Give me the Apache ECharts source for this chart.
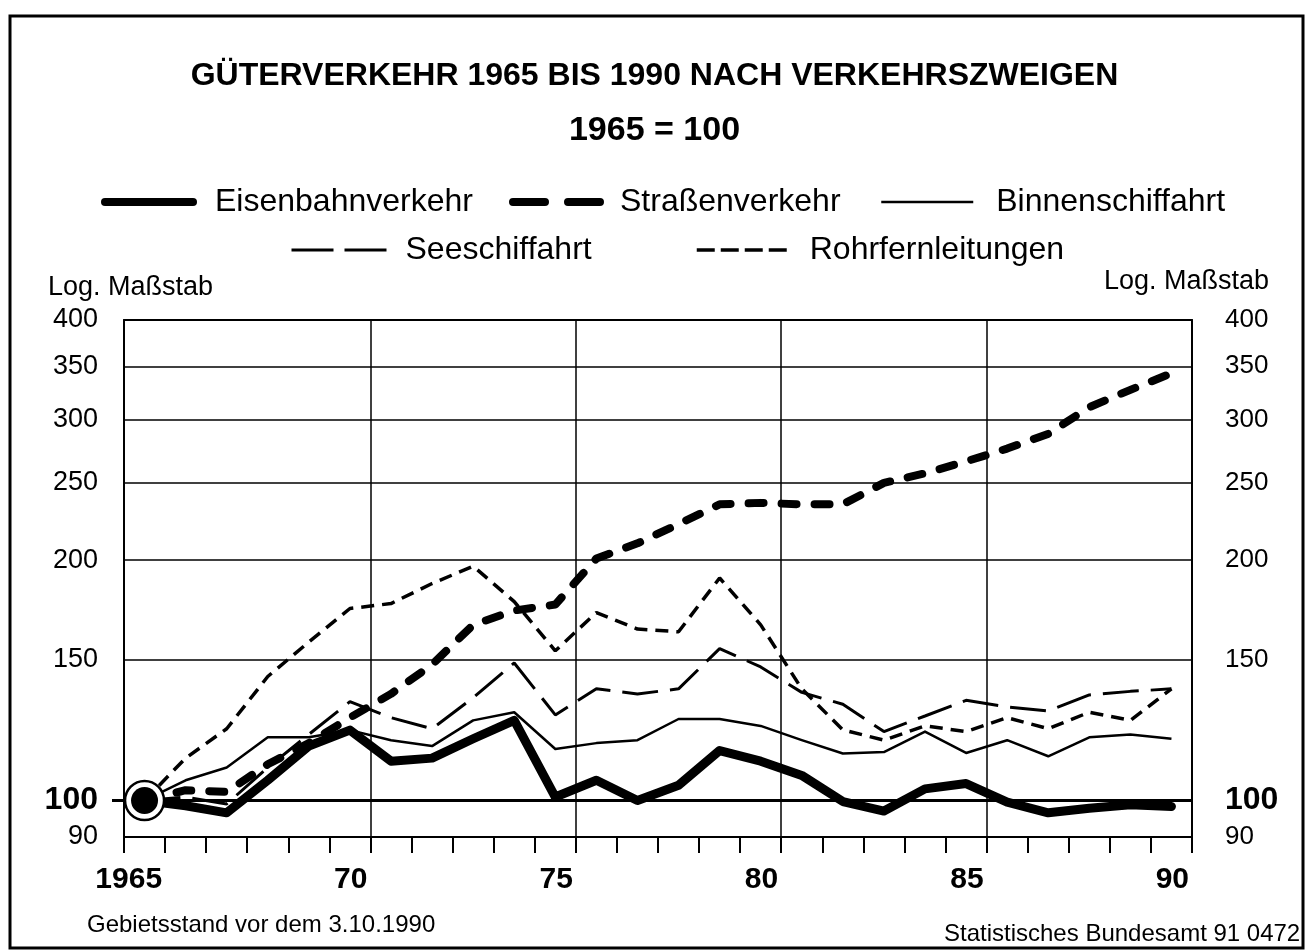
<!DOCTYPE html>
<html>
<head>
<meta charset="utf-8">
<title>Güterverkehr 1965 bis 1990 nach Verkehrszweigen</title>
<script src="https://cdn.jsdelivr.net/npm/echarts@6/dist/echarts.min.js"></script>
<style>
  html, body { margin: 0; padding: 0; background: #fff; }
  #chart { width: 1309px; height: 952px; }
</style>
</head>
<body>
<div id="chart"></div>
<script>
// Jahre (Index 1965 = 100)
const years = [1965, 1966, 1967, 1968, 1969, 1970, 1971, 1972, 1973, 1974, 1975, 1976, 1977,
               1978, 1979, 1980, 1981, 1982, 1983, 1984, 1985, 1986, 1987, 1988, 1989, 1990];

const eisenbahn = [100, 98.5, 96.5, 106, 117, 122.5, 112, 113, 119.5, 126, 101, 106, 100,
                   104.5, 115.5, 112, 107.5, 99.7, 97, 103.4, 105, 99.5, 96.5, 97.8, 98.8, 98.3];
const strasse   = [100, 103, 102.5, 111, 118, 127, 136, 148, 166, 173, 176, 201, 210,
                   222, 235, 236, 235, 235, 250, 257, 266, 276, 288, 311, 327, 343];
const binnen    = [100, 106, 110, 120, 120, 122.5, 119, 117, 126, 129, 116, 118, 119,
                   126.5, 126.5, 124, 119, 114.5, 115, 122, 114.7, 119, 113.6, 120, 121, 119.5];
const see       = [100, 101, 99, 110, 121, 133, 127, 123, 134.5, 148.7, 128, 138, 136,
                   138, 155, 147, 136.6, 132, 122, 127.6, 133.5, 131, 129.5, 135.6, 137, 138];
const rohr      = [100, 113, 123, 143, 158, 174, 176.5, 187, 196.6, 177.5, 154, 172, 164,
                   162.7, 190, 166, 138, 122.6, 119, 124, 122, 127, 123, 129, 126, 138];

const baseValue = 100;
const yTicks = [90, 100, 150, 200, 250, 300, 350, 400];
const xLabelYears = [1965, 1970, 1975, 1980, 1985, 1990];
const xGridYears = [1970, 1975, 1980, 1985];

const FONT = '"Liberation Sans", Arial, Helvetica, sans-serif';
const lg = v => Math.log10(v);
// Jahr -> Ende des Jahresfeldes auf der x-Achse (0..26)
const yearEnd = y => y - years[0] + 1;
const toPts = arr => arr.map((v, i) => [years[i] - years[0] + 0.5, lg(v)]);

const xLabelMap = {};
xLabelYears.forEach(y => {
  xLabelMap[yearEnd(y)] = y === years[0] ? String(y) : String(y).slice(2);
});

const yFormatter = v => {
  const n = Math.round(Math.pow(10, v));
  return n === 100 ? '{b|' + n + '}' : '{n|' + n + '}';
};

const chart = echarts.init(document.getElementById('chart'));

function legendItem(name, left, top, width, lineStyle, pad) {
  return {
    data: [name],
    left: left,
    top: top,
    padding: 0,
    itemWidth: width,
    itemHeight: 32,
    selectedMode: false,
    lineStyle: Object.assign({ color: '#000' }, lineStyle),
    itemStyle: { opacity: 0 },
    textStyle: { fontSize: 32, fontFamily: FONT, color: '#000', padding: [0, 0, 0, pad] }
  };
}

const option = {
  backgroundColor: '#fff',
  animation: false,
  textStyle: { fontFamily: FONT, color: '#000' },
  title: [
    {
      text: 'GÜTERVERKEHR 1965 BIS 1990 NACH VERKEHRSZWEIGEN',
      left: 'center', top: 60, padding: 0,
      textStyle: { fontSize: 32, fontWeight: 'bold', fontFamily: FONT, color: '#000' }
    },
    {
      text: '1965 = 100',
      left: 'center', top: 114, padding: 0,
      textStyle: { fontSize: 34, fontWeight: 'bold', fontFamily: FONT, color: '#000' }
    },
    {
      text: 'Log. Maßstab', left: 48, top: 274, padding: 0,
      textStyle: { fontSize: 27, fontWeight: 'normal', fontFamily: FONT, color: '#000' }
    },
    {
      text: 'Log. Maßstab', left: 1104, top: 268, padding: 0,
      textStyle: { fontSize: 27, fontWeight: 'normal', fontFamily: FONT, color: '#000' }
    },
    {
      text: 'Gebietsstand vor dem 3.10.1990', left: 87, top: 913, padding: 0,
      textStyle: { fontSize: 24, fontWeight: 'normal', fontFamily: FONT, color: '#000' }
    },
    {
      text: 'Statistisches Bundesamt 91 0472', left: 944, top: 922, padding: 0,
      textStyle: { fontSize: 24, fontWeight: 'normal', fontFamily: FONT, color: '#000' }
    }
  ],
  legend: [
    legendItem('Eisenbahnverkehr', 101, 186, 88, { width: 8, cap: 'round', type: 'solid' }, 17),
    legendItem('Straßenverkehr', 509, 186, 87, { width: 8, cap: 'round', type: [32, 23] }, 15),
    legendItem('Binnenschiffahrt', 880, 186, 92, { width: 2.5, type: 'solid' }, 18),
    legendItem('Seeschiffahrt', 290, 234, 95, { width: 3, type: [42, 11] }, 14),
    legendItem('Rohrfernleitungen', 695, 234, 90, { width: 3.5, type: [18, 6] }, 18)
  ],
  graphic: [
    {
      type: 'rect',
      shape: { x: 10, y: 16, width: 1293, height: 932 },
      style: { fill: 'none', stroke: '#000', lineWidth: 3 },
      silent: true
    }
  ],
  grid: { left: 124, right: 117, top: 320, bottom: 115 },
  xAxis: [
    {
      type: 'value', min: 0, max: 26, interval: 1, position: 'bottom',
      axisLine: { show: true, onZero: false, lineStyle: { color: '#000', width: 2 } },
      axisTick: { show: true, inside: false, length: 16, lineStyle: { color: '#000', width: 2 } },
      axisLabel: {
        customValues: xLabelYears.map(yearEnd),
        formatter: v => xLabelMap[Math.round(v)] || '',
        align: 'right', margin: 28, padding: [0, 3, 0, 0],
        fontSize: 30, fontWeight: 'bold', fontFamily: FONT, color: '#000'
      },
      splitLine: { show: false }
    },
    {
      type: 'value', min: 0, max: 26, position: 'top',
      axisLine: { show: true, onZero: false, lineStyle: { color: '#000', width: 2 } },
      axisTick: { show: false, customValues: xGridYears.map(yearEnd) },
      axisLabel: { show: false },
      splitLine: { show: true, lineStyle: { color: '#000', width: 1.5 } }
    }
  ],
  yAxis: [
    {
      type: 'value', min: lg(yTicks[0]), max: lg(yTicks[yTicks.length - 1]), position: 'left',
      axisLine: { show: true, onZero: false, lineStyle: { color: '#000', width: 2 } },
      axisTick: { show: false, customValues: yTicks.map(lg) },
      axisLabel: {
        customValues: yTicks.map(lg), formatter: yFormatter, margin: 26,
        rich: {
          n: { fontSize: 27, fontFamily: FONT, color: '#000' },
          b: { fontSize: 32, fontWeight: 'bold', fontFamily: FONT, color: '#000' }
        }
      },
      splitLine: { show: true, lineStyle: { color: '#000', width: 1.5 } }
    },
    {
      type: 'value', min: lg(yTicks[0]), max: lg(yTicks[yTicks.length - 1]), position: 'right',
      axisLine: { show: true, onZero: false, lineStyle: { color: '#000', width: 2 } },
      axisTick: { show: false, customValues: yTicks.map(lg) },
      axisLabel: {
        customValues: yTicks.map(lg), formatter: yFormatter, margin: 33, align: 'left',
        rich: {
          n: { fontSize: 26, fontFamily: FONT, color: '#000' },
          b: { fontSize: 32, fontWeight: 'bold', fontFamily: FONT, color: '#000' }
        }
      },
      splitLine: { show: false }
    },
    {
      type: 'value', min: lg(yTicks[0]), max: lg(yTicks[yTicks.length - 1]), position: 'left',
      axisLine: { show: false },
      axisTick: { show: true, customValues: [lg(baseValue)], length: 12, lineStyle: { color: '#000', width: 3 } },
      axisLabel: { show: false },
      splitLine: { show: true, lineStyle: { color: '#000', width: 3 } }
    },
    {
      type: 'value', min: lg(yTicks[0]), max: lg(yTicks[yTicks.length - 1]), position: 'right',
      axisLine: { show: false },
      axisTick: { show: true, customValues: [lg(baseValue)], length: 16, lineStyle: { color: '#000', width: 3 } },
      axisLabel: { show: false },
      splitLine: { show: false }
    }
  ],
  series: [
    {
      name: 'Binnenschiffahrt', type: 'line', data: toPts(binnen), symbol: 'none', z: 3,
      lineStyle: { color: '#000', width: 2.5, join: 'round' }
    },
    {
      name: 'Seeschiffahrt', type: 'line', data: toPts(see), symbol: 'none', z: 3,
      lineStyle: { color: '#000', width: 3, type: [36, 12] }
    },
    {
      name: 'Rohrfernleitungen', type: 'line', data: toPts(rohr), symbol: 'none', z: 3,
      lineStyle: { color: '#000', width: 3.5, type: [13, 8] }
    },
    {
      name: 'Straßenverkehr', type: 'line', data: toPts(strasse), symbol: 'none', z: 4,
      lineStyle: { color: '#000', width: 8, type: [15, 18], cap: 'round', join: 'round' }
    },
    {
      name: 'Eisenbahnverkehr', type: 'line', data: toPts(eisenbahn), symbol: 'none', z: 4,
      lineStyle: { color: '#000', width: 9, cap: 'round', join: 'round' }
    },
    {
      name: 'Basis', type: 'scatter', z: 6, silent: true,
      data: [[0.5, lg(baseValue)]],
      symbol: 'circle', symbolSize: 39,
      itemStyle: { color: '#fff', borderColor: '#000', borderWidth: 2.5, opacity: 1 }
    },
    {
      name: 'Basis innen', type: 'scatter', z: 7, silent: true,
      data: [[0.5, lg(baseValue)]],
      symbol: 'circle', symbolSize: 27,
      itemStyle: { color: '#000', opacity: 1 }
    }
  ]
};

chart.setOption(option);
</script>
</body>
</html>
